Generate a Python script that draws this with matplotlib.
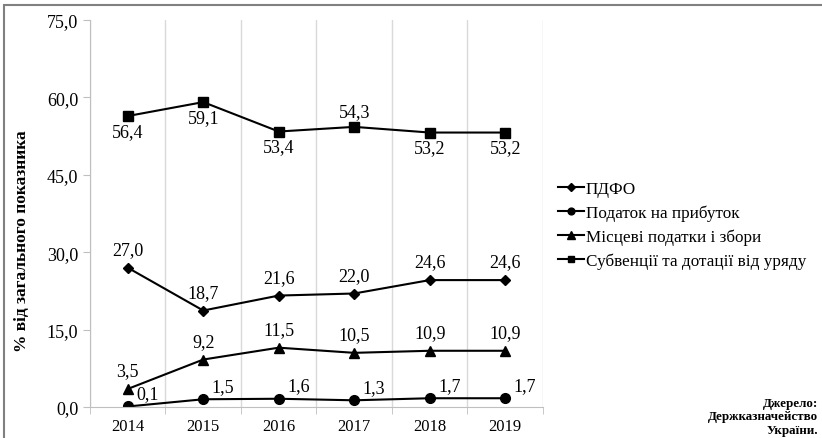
import matplotlib.pyplot as plt
import matplotlib.patches as mpatches
import numpy as np

plt.rcParams['font.family'] = ['Liberation Serif', 'DejaVu Serif']

# Дані
years = ['2014', '2015', '2016', '2017', '2018', '2019']
pdfo = [27.0, 18.7, 21.6, 22.0, 24.6, 24.6]
profit_tax = [0.1, 1.5, 1.6, 1.3, 1.7, 1.7]
local_taxes = [3.5, 9.2, 11.5, 10.5, 10.9, 10.9]
subventions = [56.4, 59.1, 53.4, 54.3, 53.2, 53.2]
sub_label_pos = ['below', 'below', 'below', 'above', 'below', 'below']

fig = plt.figure(figsize=(8.22, 4.39), dpi=100)
ax = fig.add_axes([0.1095, 0.0706, 0.551, 0.8814])

x = np.arange(len(years))
lw = 1.5
ax.plot(x, pdfo, 'k-', marker='D', markersize=5.5, linewidth=lw, label='ПДФО')
ax.plot(x, profit_tax, 'k-', marker='o', markersize=7, linewidth=lw, label='Податок на прибуток')
ax.plot(x, local_taxes, 'k-', marker='^', markersize=7.5, linewidth=lw, label='Місцеві податки і збори')
ax.plot(x, subventions, 'k-', marker='s', markersize=7, linewidth=lw, label='Субвенції та дотації від уряду')

fs = 13
fmt = lambda v: f'{v:.1f}'.replace('.', ',')
for i in x:
    ax.annotate(fmt(pdfo[i]), (i, pdfo[i]), xytext=(0, 7),
                textcoords='offset points', ha='center', va='bottom', fontsize=fs)
    ax.annotate(fmt(local_taxes[i]), (i, local_taxes[i]), xytext=(0, 7),
                textcoords='offset points', ha='center', va='bottom', fontsize=fs)
    ax.annotate(fmt(profit_tax[i]), (i, profit_tax[i]), xytext=(6, 3),
                textcoords='offset points', ha='left', va='bottom', fontsize=fs)
    if sub_label_pos[i] == 'above':
        ax.annotate(fmt(subventions[i]), (i, subventions[i]), xytext=(0, 5),
                    textcoords='offset points', ha='center', va='bottom', fontsize=fs)
    else:
        ax.annotate(fmt(subventions[i]), (i, subventions[i]), xytext=(0, -5),
                    textcoords='offset points', ha='center', va='top', fontsize=fs)

ax.set_xlim(-0.5, len(years) - 0.5)
ax.set_ylim(0, 75)
yt = np.arange(0, 76, 15)
ax.set_yticks(yt)
ax.set_yticklabels([fmt(v) for v in yt], fontsize=13)
ax.set_xticks(x)
ax.set_xticklabels(years, fontsize=12)
ax.set_xticks(np.arange(-0.5, len(years)), minor=True)
ax.tick_params(axis='x', which='major', length=0, pad=8)
ax.tick_params(axis='x', which='minor', length=5, color='#bfbfbf')
ax.tick_params(axis='y', length=5, color='#bfbfbf')
ax.grid(True, axis='x', which='minor', color='#d9d9d9', linewidth=1)
for s in ['top', 'right']:
    ax.spines[s].set_visible(False)
ax.spines['left'].set_color('#bfbfbf')
ax.spines['bottom'].set_color('#bfbfbf')
ax.set_ylabel('% від загального показника', fontsize=12.5, fontweight='bold')
ax.yaxis.set_label_coords(-0.132, 0.43)

ax.legend(loc='center left', bbox_to_anchor=(1.0, 0.47), frameon=False, fontsize=12.3,
          handlelength=1.5, handletextpad=0.1, labelspacing=0.45, markerscale=0.7)

fig.text(0.995, 0.005, 'Джерело:\nДержказначейство\nУкраїни.', ha='right', va='bottom',
         fontsize=9.4, fontweight='bold', multialignment='right', linespacing=1.15)

# рамка
fig.patches.append(mpatches.Rectangle((4 / 822, -0.1), 1.0, (439 - 6) / 439 + 0.1,
                                      transform=fig.transFigure, fill=False,
                                      edgecolor='#808080', linewidth=1.5))

plt.savefig('out.png', dpi=100)
